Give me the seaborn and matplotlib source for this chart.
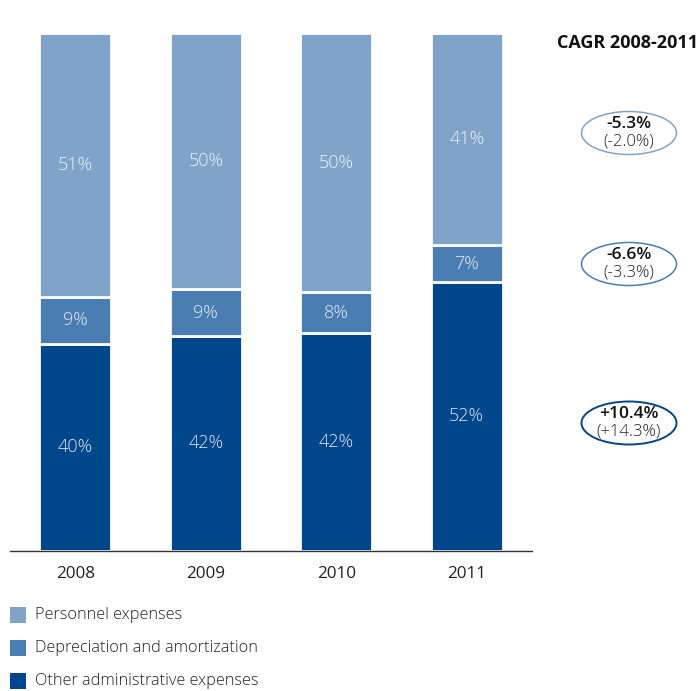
import matplotlib
matplotlib.use("Agg")
import matplotlib.pyplot as plt
from matplotlib.patches import Ellipse, Rectangle
import seaborn as sns
import pandas as pd
import numpy as np

years = ["2008", "2009", "2010", "2011"]
other_admin = [40, 42, 42, 52]
depreciation = [9, 9, 8, 7]
personnel = [51, 50, 50, 41]

series_names = ["Other administrative expenses", "Depreciation and amortization", "Personnel expenses"]
series_colors = ["#00468b", "#4a7eb2", "#80a4c9"]
label_colors = ["#dfe6f0", "#e3eaf3", "#ecf1f7"]

cagr_values = ["-5.3%", "-6.6%", "+10.4%"]
cagr_prev = ["(-2.0%)", "(-3.3%)", "(+14.3%)"]
cagr_edge = ["#80a4c9", "#4a7eb2", "#00468b"]
cagr_title = "CAGR 2008-2011"

sns.set_theme(style="white")
plt.rcParams["font.family"] = ["Open Sans", "DejaVu Sans"]

W, H = 699, 691
fig = plt.figure(figsize=(W / 100, H / 100), dpi=100)
ax = fig.add_axes([10 / W, 140 / H, 522 / W, 518 / H])

df = pd.DataFrame({
    "year": years,
    series_names[0]: other_admin,
    series_names[1]: depreciation,
    series_names[2]: personnel,
})
totals = df[series_names].sum(axis=1)
shares = df[series_names].div(totals, axis=0) * 100

bottom = np.zeros(len(years))
for name, color, lab_col, raw in zip(series_names, series_colors, label_colors,
                                     [other_admin, depreciation, personnel]):
    sns.barplot(x=df["year"], y=shares[name], bottom=bottom, color=color,
                width=0.555, saturation=1, edgecolor="white", linewidth=2.0,
                ax=ax, zorder=2)
    for i, v in enumerate(raw):
        ax.text(i, bottom[i] + shares[name].iloc[i] / 2, f"{v}%", ha="center",
                va="center", color=lab_col, fontsize=13, fontweight="light",
                zorder=3)
    bottom += shares[name].values

ax.set_xlim(-0.5, 3.5)
ax.set_ylim(0, 100)
ax.set_xlabel("")
ax.set_ylabel("")
ax.set_yticks([])
ax.tick_params(axis="x", length=0, pad=11, labelsize=12.3, labelcolor="#222222")
for side in ["left", "right", "top"]:
    ax.spines[side].set_visible(False)
ax.spines["bottom"].set_color("#333333")
ax.spines["bottom"].set_linewidth(1.0)
ax.spines["bottom"].set_zorder(5)

# CAGR column on the right
fig.text(698 / W, 1 - 43 / H, cagr_title, ha="right", va="center",
         fontsize=13, fontweight="bold", color="#111111")
ell_y = [133, 264, 423]
for yv, val, prev, ec in zip(ell_y, cagr_values, cagr_prev, cagr_edge):
    yc = 1 - yv / H
    fig.add_artist(Ellipse((629 / W, yc), 95 / W, 43 / H, transform=fig.transFigure,
                           facecolor="white", edgecolor=ec,
                           linewidth=1.4 if ec == "#00468b" else 1.1))
    fig.text(629 / W, yc + 9 / H, val, ha="center", va="center",
             fontsize=12.5, fontweight="semibold", color="#111111")
    fig.text(629 / W, yc - 9 / H, prev, ha="center", va="center",
             fontsize=12, fontweight="light", color="#222222")

# legend rows
legend_order = [2, 1, 0]
row_y = [615, 648, 681]
for k, yv in zip(legend_order, row_y):
    fig.add_artist(Rectangle((10 / W, 1 - (yv + 8) / H), 16 / W, 16 / H,
                             transform=fig.transFigure, facecolor=series_colors[k],
                             edgecolor="none"))
    fig.text(35 / W, 1 - yv / H, series_names[k], ha="left", va="center",
             fontsize=11.7, fontweight="light", color="#222222")

fig.savefig("out.png", dpi=100, facecolor="white")
